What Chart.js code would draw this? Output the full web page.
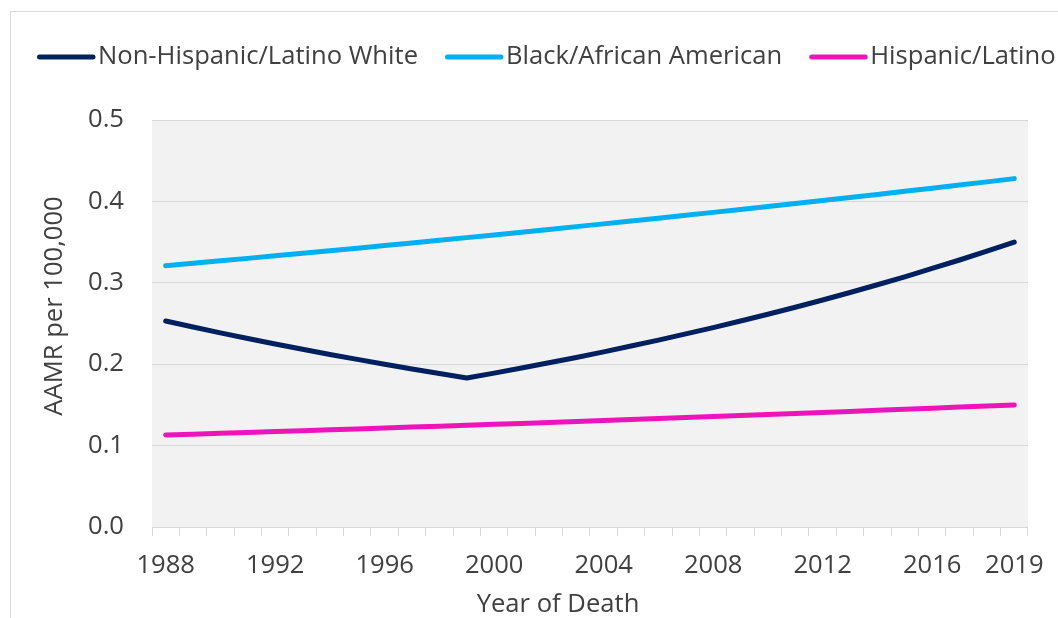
<!DOCTYPE html>
<html>
<head>
<meta charset="utf-8">
<script src="https://cdn.jsdelivr.net/npm/chart.js@4.4.1/dist/chart.umd.min.js"></script>
<style>
html, body { margin: 0; padding: 0; background: #fff; overflow: hidden; }
#frame { position: absolute; left: 10px; top: 11px; width: 1100px; height: 700px; border: 1.5px solid #d9d9d9; }
#wrap { position: absolute; left: 0; top: 0; width: 1058px; height: 618px; }
</style>
</head>
<body>
<div id="frame"></div>
<div id="wrap"><canvas id="chart" width="1058" height="618"></canvas></div>
<script>
// years on the x axis
const years = ['1988','1989','1990','1991','1992','1993','1994','1995','1996','1997','1998','1999',
               '2000','2001','2002','2003','2004','2005','2006','2007','2008','2009','2010','2011',
               '2012','2013','2014','2015','2016','2017','2018','2019'];
const shownYears = ['1988','1992','1996','2000','2004','2008','2012','2016','2019'];
const yTicks = [0, 0.1, 0.2, 0.3, 0.4, 0.5];

// AAMR per 100,000
const whiteRates = [0.2530,0.2457,0.2385,0.2316,0.2249,0.2184,0.2120,0.2059,0.1999,0.1941,0.1885,0.1830,
                    0.1890,0.1953,0.2017,0.2083,0.2152,0.2223,0.2296,0.2372,0.2450,0.2531,0.2614,0.2700,
                    0.2789,0.2881,0.2976,0.3074,0.3176,0.3280,0.3388,0.3500];
const blackRates = [0.3210,0.3240,0.3270,0.3300,0.3331,0.3362,0.3394,0.3425,0.3457,0.3490,0.3522,0.3555,
                    0.3588,0.3622,0.3655,0.3690,0.3724,0.3759,0.3794,0.3829,0.3865,0.3901,0.3937,0.3974,
                    0.4011,0.4048,0.4086,0.4124,0.4162,0.4201,0.4240,0.4280];
const hispanicRates = [0.1130,0.1140,0.1151,0.1161,0.1172,0.1183,0.1194,0.1205,0.1216,0.1227,0.1238,0.1249,
                       0.1261,0.1273,0.1284,0.1296,0.1308,0.1320,0.1332,0.1344,0.1357,0.1369,0.1381,0.1394,
                       0.1407,0.1420,0.1433,0.1446,0.1459,0.1473,0.1486,0.1500];

const textColor = '#404040';
const gridColor = '#d9d9d9';
const fontSize = 25.6;
const fontStr = fontSize + 'px "Open Sans", sans-serif';
Chart.defaults.font.family = '"Open Sans", sans-serif';
Chart.defaults.font.size = fontSize;
Chart.defaults.color = textColor;

// grey plot area
const plotBg = {
    id: 'plotBg',
    beforeDraw(chart) {
        const a = chart.chartArea;
        chart.ctx.save();
        chart.ctx.fillStyle = '#f2f2f2';
        chart.ctx.fillRect(a.left, a.top, a.right - a.left, a.bottom - a.top);
        chart.ctx.restore();
    }
};

// excel style legend: thick line then label
const lineLegend = {
    id: 'lineLegend',
    afterDraw(chart) {
        const ctx = chart.ctx;
        ctx.save();
        ctx.font = fontStr;
        ctx.textBaseline = 'middle';
        let x = 37;
        const y = 57;
        chart.data.datasets.forEach(ds => {
            ctx.strokeStyle = ds.borderColor;
            ctx.lineWidth = 5;
            ctx.lineCap = 'round';
            ctx.beginPath();
            ctx.moveTo(x + 2.5, y);
            ctx.lineTo(x + 56, y);
            ctx.stroke();
            x += 61;
            ctx.fillStyle = textColor;
            ctx.fillText(ds.label, x, y);
            x += ctx.measureText(ds.label).width + 27;
        });
        ctx.restore();
    }
};

// axis titles, placed like the excel original (not centred on the plot)
const axisTitles = {
    id: 'axisTitles',
    afterDraw(chart) {
        const ctx = chart.ctx;
        ctx.save();
        ctx.font = fontStr;
        ctx.fillStyle = textColor;
        ctx.textAlign = 'center';
        ctx.textBaseline = 'middle';
        ctx.fillText('Year of Death', 558, 605);
        ctx.translate(55, 306);
        ctx.rotate(-Math.PI / 2);
        ctx.fillText('AAMR per 100,000', 0, 0);
        ctx.restore();
    }
};

const lineStyle = { borderWidth: 5, pointRadius: 0, pointHoverRadius: 0, tension: 0,
                    borderCapStyle: 'round', borderJoinStyle: 'round', fill: false };

new Chart(document.getElementById('chart'), {
    type: 'line',
    data: {
        labels: years,
        datasets: [
            { label: 'Non-Hispanic/Latino White', data: whiteRates, borderColor: '#002060', ...lineStyle },
            { label: 'Black/African American', data: blackRates, borderColor: '#00b0f0', ...lineStyle },
            { label: 'Hispanic/Latino', data: hispanicRates, borderColor: '#ee14bc', ...lineStyle }
        ]
    },
    options: {
        responsive: false,
        animation: false,
        layout: { padding: { top: 120, left: 40, right: 30, bottom: 0 } },
        plugins: { legend: { display: false }, tooltip: { enabled: false } },
        scales: {
            x: {
                type: 'category',
                offset: true,
                grid: { offset: true, drawOnChartArea: false, drawTicks: true, tickLength: 9, color: gridColor, lineWidth: 1 },
                border: { color: gridColor, width: 1 },
                ticks: {
                    autoSkip: false, maxRotation: 0, padding: 14,
                    callback: (v, i) => shownYears.includes(years[i]) ? years[i] : ''
                },
                afterFit: s => { s.height = 91; }
            },
            y: {
                min: 0, max: 0.5,
                afterBuildTicks: s => { s.ticks = yTicks.map(v => ({ value: v })); },
                ticks: { padding: 28, callback: v => v.toFixed(1) },
                grid: { color: gridColor, lineWidth: 1, drawTicks: false },
                border: { display: false },
                afterFit: s => { s.width = 112; }
            }
        }
    },
    plugins: [plotBg, lineLegend, axisTitles]
});
</script>
</body>
</html>
